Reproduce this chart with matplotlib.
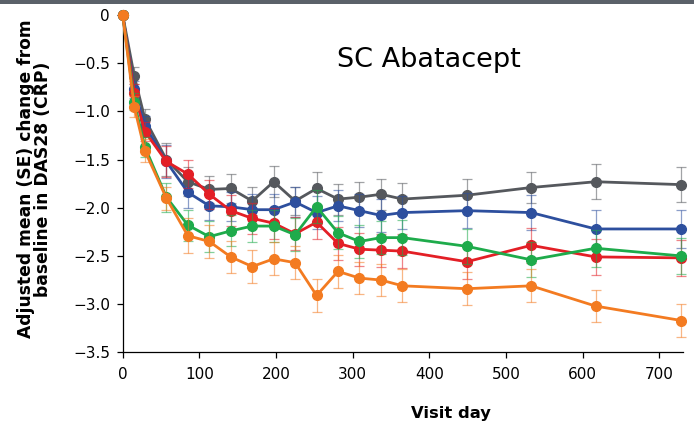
import matplotlib.pyplot as plt
from matplotlib.patches import Rectangle

plt.rcParams["font.family"] = ["DejaVu Sans"]

# visit days
days = [0, 15, 29, 57, 85, 113, 141, 169, 197, 225, 253, 281, 309, 337, 365, 449, 533, 617, 729]

# adjusted mean change from baseline, one list per group
gray_mean = [0, -0.63, -1.08, -1.50, -1.73, -1.81, -1.80, -1.93, -1.73, -1.93, -1.80, -1.91, -1.89, -1.86, -1.91, -1.87, -1.79, -1.73, -1.76]
blue_mean = [0, -0.77, -1.15, -1.52, -1.84, -1.98, -1.99, -2.02, -2.02, -1.94, -2.05, -1.98, -2.03, -2.08, -2.05, -2.03, -2.05, -2.22, -2.22]
red_mean = [0, -0.81, -1.21, -1.52, -1.65, -1.86, -2.03, -2.11, -2.16, -2.27, -2.15, -2.37, -2.43, -2.44, -2.45, -2.56, -2.39, -2.51, -2.52]
green_mean = [0, -0.90, -1.37, -1.89, -2.18, -2.30, -2.24, -2.19, -2.19, -2.28, -1.99, -2.26, -2.35, -2.31, -2.31, -2.40, -2.54, -2.42, -2.50]
orange_mean = [0, -0.95, -1.41, -1.90, -2.29, -2.35, -2.51, -2.61, -2.53, -2.57, -2.91, -2.66, -2.73, -2.75, -2.81, -2.84, -2.81, -3.02, -3.17]

# standard errors
gray_se = [0, 0.09, 0.10, 0.17, 0.15, 0.14, 0.15, 0.15, 0.16, 0.15, 0.17, 0.16, 0.16, 0.16, 0.17, 0.17, 0.16, 0.18, 0.18]
blue_se = [0, 0.09, 0.10, 0.17, 0.16, 0.15, 0.15, 0.16, 0.16, 0.16, 0.17, 0.16, 0.17, 0.17, 0.17, 0.18, 0.18, 0.20, 0.20]
red_se = [0, 0.09, 0.10, 0.16, 0.15, 0.15, 0.16, 0.16, 0.16, 0.17, 0.17, 0.17, 0.17, 0.17, 0.18, 0.18, 0.18, 0.19, 0.19]
green_se = [0, 0.09, 0.10, 0.15, 0.16, 0.16, 0.16, 0.17, 0.17, 0.17, 0.17, 0.17, 0.17, 0.17, 0.18, 0.18, 0.18, 0.19, 0.19]
orange_se = [0, 0.11, 0.12, 0.12, 0.18, 0.17, 0.17, 0.17, 0.17, 0.17, 0.17, 0.17, 0.17, 0.17, 0.17, 0.17, 0.17, 0.17, 0.17]

groups = [
    (gray_mean, gray_se, "#55585d"),
    (blue_mean, blue_se, "#2d4f9e"),
    (red_mean, red_se, "#e31f26"),
    (green_mean, green_se, "#1eab4b"),
    (orange_mean, orange_se, "#f37b21"),
]

fig = plt.figure(figsize=(6.94, 4.25), dpi=100)
ax = fig.add_axes([0.1768, 0.171, 0.8072, 0.7937])

# thin dark strip along the top edge
fig.patches.append(Rectangle((0, 1 - 4 / 425), 1, 4 / 425, transform=fig.transFigure,
                             facecolor="#5b6169", edgecolor="none"))

for z, (m, se, c) in enumerate(groups):
    ax.errorbar(days, m, yerr=se, fmt="none", ecolor=c, elinewidth=0.9, capsize=3.5,
                capthick=0.9, alpha=0.55, zorder=2 + z, clip_on=False)
    ax.plot(days, m, color=c, lw=2.0, marker="o", markersize=7, zorder=3 + z, clip_on=False)

ax.set_xlim(0, 731)
ax.set_ylim(-3.5, 0)
ax.set_xticks([0, 100, 200, 300, 400, 500, 600, 700])
ax.set_yticks([0, -0.5, -1.0, -1.5, -2.0, -2.5, -3.0, -3.5])
ax.set_yticklabels(["0", "\u22120.5", "\u22121.0", "\u22121.5", "\u22122.0", "\u22122.5", "\u22123.0", "\u22123.5"])

for s in ["top", "right"]:
    ax.spines[s].set_visible(False)
for s in ["left", "bottom"]:
    ax.spines[s].set_linewidth(0.9)
ax.tick_params(direction="out", length=4.3, width=0.9, labelsize=11)
ax.tick_params(axis="y", pad=4.8)
ax.tick_params(axis="x", pad=6)

ax.set_xlabel("Visit day", fontsize=11.8, fontweight="bold")
ax.xaxis.label.set_va("baseline")
ax.xaxis.set_label_coords(0.586, -0.195)

ax.set_ylabel("Adjusted mean (SE) change from\nbaseline in DAS28 (CRP)", fontsize=12.3,
              fontweight="bold", linespacing=0.95)
ax.yaxis.set_label_coords(-0.126, 0.514)

ax.text(0.3825, 0.8467, "SC Abatacept", transform=ax.transAxes, fontsize=19.5, va="baseline")

plt.savefig("out.png", dpi=100)
